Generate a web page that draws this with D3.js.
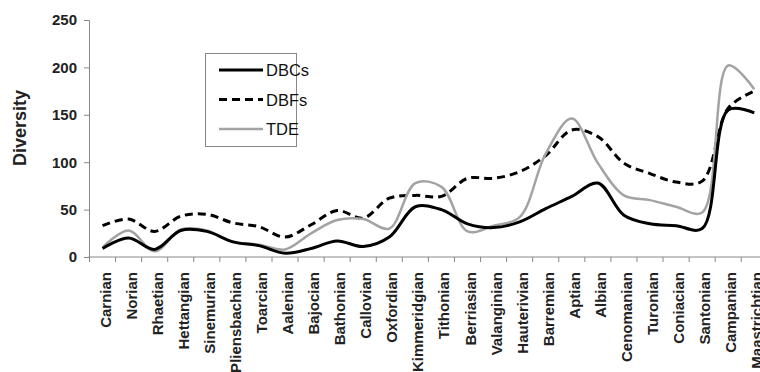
<!DOCTYPE html>
<html>
<head>
<meta charset="utf-8">
<script src="https://cdn.jsdelivr.net/npm/d3@7"></script>
<style>
  body { margin: 0; background: #fff; }
  svg { display: block; font-family: "Liberation Sans", Arial, sans-serif; }
</style>
</head>
<body>
<svg width="760" height="372"></svg>
<script>
const categories = ["Carnian", "Norian", "Rhaetian", "Hettangian", "Sinemurian", "Pliensbachian",
  "Toarcian", "Aalenian", "Bajocian", "Bathonian", "Callovian", "Oxfordian", "Kimmeridgian",
  "Tithonian", "Berriasian", "Valanginian", "Hauterivian", "Barremian", "Aptian", "Albian",
  "Cenomanian", "Turonian", "Coniacian", "Santonian", "Campanian", "Maastrichtian"];
const dbcs = [9, 20, 8, 28, 27, 16, 12, 4, 9, 17, 11, 21, 53, 50, 35, 31, 37, 51, 64, 78, 44, 35, 33, 30, 155, 152];
const dbfs = [33, 40, 27, 43, 45, 36, 32, 21, 34, 49, 41, 62, 65, 64, 83, 83, 90, 107, 134, 127, 99, 88, 79, 80, 157, 175];
const tde = [10, 28, 6, 29, 28, 16, 13, 8, 25, 39, 40, 30, 78, 74, 27, 33, 42, 109, 146, 99, 65, 60, 53, 47, 202, 177];
const yTicks = [0, 50, 100, 150, 200, 250];

const svg = d3.select("svg");
const plotLeft = 89.5, plotTop = 20, plotBottom = 257;
const step = 26.07;

const x = d3.scaleBand().domain(categories).range([plotLeft, plotLeft + step * categories.length]);
const y = d3.scaleLinear().domain([0, 250]).range([plotBottom, plotTop]);

// y axis
const yAxis = d3.axisLeft(y).tickValues(yTicks).tickSize(5).tickPadding(7);
const gy = svg.append("g").attr("transform", "translate(" + (plotLeft - 0.5) + ",0)").call(yAxis);
gy.select(".domain").attr("stroke", "#888");
gy.selectAll(".tick line").attr("stroke", "#888");
gy.selectAll("text").attr("font-size", 15).attr("font-weight", "bold").attr("fill", "#222")
  .attr("font-family", "Liberation Sans, Arial, sans-serif");

svg.append("text")
  .attr("transform", "translate(26,128) rotate(-90)")
  .attr("text-anchor", "middle")
  .attr("font-size", 18).attr("font-weight", "bold").attr("fill", "#222")
  .text("Diversity");

// x axis: line, boundary ticks, rotated labels
svg.append("line")
  .attr("x1", plotLeft - 1).attr("x2", 760).attr("y1", plotBottom).attr("y2", plotBottom)
  .attr("stroke", "#888");

const bounds = categories.map(c => x(c)).concat([x.range()[1]]);
svg.append("g").selectAll("line").data(bounds).enter().append("line")
  .attr("x1", d => d).attr("x2", d => d)
  .attr("y1", plotBottom).attr("y2", plotBottom + 5)
  .attr("stroke", "#888");

svg.append("g").selectAll("text").data(categories).enter().append("text")
  .attr("transform", d => "translate(" + (x(d) + x.bandwidth() / 2 + 8) + "," + (plotBottom + 15) + ") rotate(-90)")
  .attr("text-anchor", "end")
  .attr("font-size", 15).attr("font-weight", "bold").attr("fill", "#222")
  .text(d => d);

// lines
const line = d3.line()
  .x((d, i) => x(categories[i]) + x.bandwidth() / 2)
  .y(d => y(d))
  .curve(d3.curveCatmullRom.alpha(0.5));

const series = [
  { name: "DBFs", values: dbfs, color: "#000", width: 3, dash: "8,5" },
  { name: "TDE", values: tde, color: "#a3a3a3", width: 2.5, dash: null },
  { name: "DBCs", values: dbcs, color: "#000", width: 3, dash: null }
];

series.forEach(s => {
  svg.append("path")
    .attr("d", line(s.values))
    .attr("fill", "none")
    .attr("stroke", s.color)
    .attr("stroke-width", s.width)
    .attr("stroke-dasharray", s.dash);
});

// legend
const legend = svg.append("g");
legend.append("rect")
  .attr("x", 205.5).attr("y", 53.5).attr("width", 91).attr("height", 93)
  .attr("fill", "#fff").attr("stroke", "#888");

const legendItems = [series[2], series[0], series[1]];
legendItems.forEach((s, i) => {
  const ly = 70 + i * 29.5;
  legend.append("line")
    .attr("x1", 219).attr("x2", 263).attr("y1", ly).attr("y2", ly)
    .attr("stroke", s.color).attr("stroke-width", s.width)
    .attr("stroke-dasharray", s.dash);
  legend.append("text")
    .attr("x", 266).attr("y", ly + 6)
    .attr("font-size", 16.5).attr("fill", "#111")
    .text(s.name);
});
</script>
</body>
</html>
